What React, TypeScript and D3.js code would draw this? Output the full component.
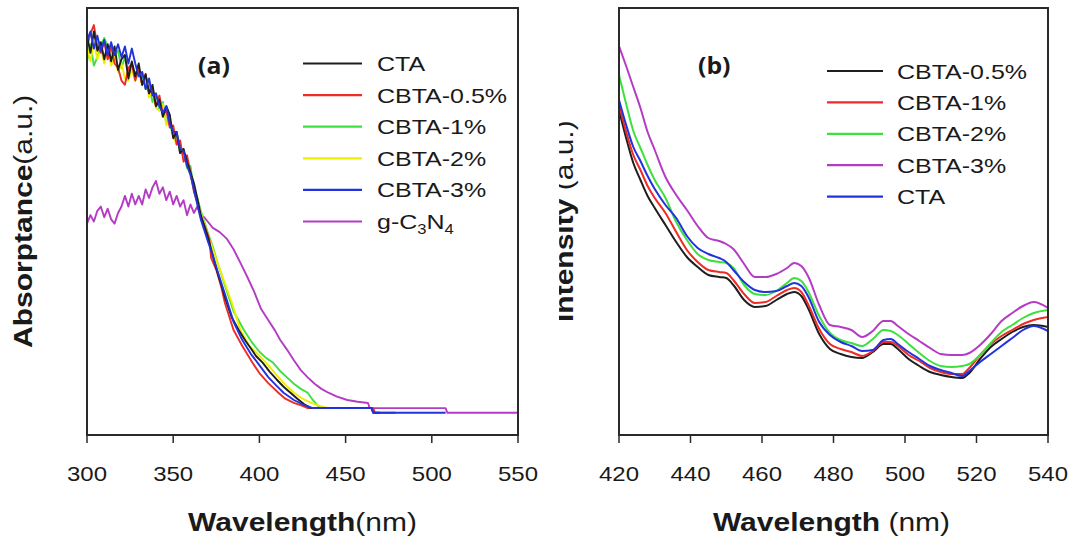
import React from 'react';
import * as d3 from 'd3';

const W = 1077, H = 551;
const FONT = '"Liberation Sans", Arial, Helvetica, sans-serif';
const SX = 1.2;

// ---------- Panel (a): absorptance ----------
const aTicks = [300, 350, 400, 450, 500, 550];
const nmNoisy = [300,302,304,306,308,310,312,314,316,318,320,322,324,326,328,330,332,334,336,338,340,342,344,346,348,350,352,354,356,358,360,362,364];

const ctaNoisy = [93.5,89.5,94.5,90.0,92.0,88.0,91.5,87.5,91.0,85.5,88.0,89.0,83.5,87.5,84.0,87.0,82.0,84.5,80.0,82.0,77.0,78.5,74.5,77.0,75.0,69.5,71.0,66.0,67.0,64.0,61.5,59.0,55.4];
const ctaTailNm = [366,368,370,372,375,378,380,384,388,392,395,398,402,406,410,414,418,422,426,430,465,466,470];
const ctaTail = [51.5,49.0,46.5,43.5,39.0,35.0,32.3,27.5,24.6,22.0,20.3,18.5,16.9,14.8,13.0,11.3,9.9,8.5,7.2,6.3,6.3,5.2,5.2];

const c05Noisy = [91.0,94.0,96.0,91.0,89.5,92.0,88.0,91.0,87.0,86.0,83.0,82.0,86.0,87.0,83.0,86.0,82.0,84.5,80.0,81.0,77.0,79.5,75.0,76.0,72.0,72.5,68.0,69.0,64.0,65.5,61.5,57.0,54.5];
const c05TailNm = [366,368,370,371,372,375,378,380,385,390,396,400,405,411,415,420,425,428,466,467,479];
const c05Tail = [51.0,49.2,47.0,45.7,41.5,38.7,34.5,30.9,24.6,20.9,16.9,14.5,12.2,9.9,8.5,7.5,6.8,6.3,6.3,5.2,5.2];

const c1Noisy = [87.5,91.5,86.5,88.5,91.0,93.0,91.0,88.0,89.0,90.0,86.0,88.5,85.0,87.0,84.0,84.0,85.0,81.0,82.0,78.0,80.0,76.0,78.0,73.0,73.0,70.0,70.5,66.0,67.0,62.5,63.0,57.5,55.5];
const c1TailNm = [366,368,370,373,376,380,385,391,396,400,404,408,412,416,420,424,428,431,434,436,440];
const c1Tail = [52.5,50.0,47.5,44.0,40.0,35.0,29.0,24.6,21.5,19.5,18.0,16.9,15.0,13.5,12.0,10.8,9.9,8.2,6.8,6.3,6.3];

const c2Noisy = [91.0,87.5,92.0,88.0,90.5,87.0,90.0,86.5,88.5,85.0,87.0,83.5,83.0,85.5,83.0,85.0,82.0,83.5,79.0,81.0,76.5,76.0,77.5,72.5,74.5,70.0,68.0,68.5,65.0,64.5,60.5,58.5,55.0];
const c2TailNm = [366,368,370,373,376,380,384,389,394,400,404,410,415,420,425,430,435,440];
const c2Tail = [52.0,49.5,47.0,43.5,40.0,35.5,31.0,24.6,21.0,18.5,16.9,14.0,11.8,9.9,8.5,7.5,6.8,6.3];

const c3Noisy = [92.5,94.5,90.5,93.5,90.0,92.5,89.0,92.0,89.0,91.5,88.5,91.0,87.0,90.5,87.0,84.0,85.0,81.0,83.5,79.5,80.0,77.0,75.5,77.0,73.0,71.0,71.0,67.0,66.5,63.0,61.0,57.5,54.0];
const c3TailNm = [366,368,370,373,376,380,385,390,395,399,405,410,414,420,426,431,465,466,508];
const c3Tail = [50.5,48.0,45.5,42.0,38.0,33.0,26.5,22.3,19.0,16.9,13.6,11.5,9.9,8.2,7.0,6.3,6.3,5.2,5.2];

const gcnNoisy = [49.5,51.5,50.0,52.5,53.5,51.0,53.0,50.5,49.5,52.0,53.5,56.0,53.5,56.5,54.0,56.0,54.0,57.5,55.5,58.0,59.5,56.5,58.0,55.0,57.0,54.0,56.0,53.5,55.0,51.5,54.0,52.0,53.5];
const gcnTailNm = [366,368,370,373,377,381,385,389,393,397,401,405,409,412,416,420,424,428,432,436,440,445,451,457,463,464,508,509,550];
const gcnTail = [51.5,51.0,50.0,48.5,47.5,46.0,43.5,40.3,37.0,33.5,29.5,27.0,24.5,22.3,20.0,17.5,15.2,13.5,12.0,10.8,9.9,9.0,8.2,7.8,7.5,6.3,6.3,5.2,5.2];

const aLabels = ['CTA', 'CBTA-0.5%', 'CBTA-1%', 'CBTA-2%', 'CBTA-3%', 'g-C3N4'];
const aColors = ['#1e1e1e', '#ee2b24', '#3ee03e', '#eeee00', '#2233dd', '#b43cc4'];

// ---------- Panel (b): PL intensity ----------
const bTicks = [420, 440, 460, 480, 500, 520, 540];
const bNm = [420,422,424,426,428,430,433,436,439,442,445,448,450,452,455,458,461,464,467,469,471,473,476,479,482,485,488,491,494,496,498,501,504,507,510,513,516,518,521,524,527,530,533,536,540];
const bC05 = [325,297,272,255,239,227,210,193,178,168,160,158,157,150,135,128,129,135,141,143,139,126,101,86,81,78,77,83,91,91,86,76,69,63,60,58,57,62,76,88,96,103,108,110,108];
const bC1 = [330,303,280,265,249,237,222,203,185,173,165,163,162,155,141,132,133,139,145,147,143,130,106,91,86,83,79,84,93,93,89,80,74,67,63,61,61,67,80,91,99,105,111,115,118];
const bC2 = [360,331,304,287,270,255,237,213,195,181,175,173,172,167,150,141,140,144,152,157,154,143,119,102,95,92,89,96,105,104,100,91,82,74,69,68,69,71,80,92,103,110,117,122,125];
const bC3 = [389,369,348,327,303,285,258,240,225,209,197,194,191,186,171,158,158,161,167,172,169,158,130,110,108,105,98,104,114,114,109,101,94,87,81,80,80,82,90,101,114,122,129,133,127];
const bCTA = [335,310,288,274,259,246,230,217,199,187,181,177,173,165,153,145,143,144,149,152,149,138,113,100,93,89,84,85,95,96,91,83,76,69,65,62,59,64,73,81,89,97,105,109,104];
const bLabels = ['CBTA-0.5%', 'CBTA-1%', 'CBTA-2%', 'CBTA-3%', 'CTA'];
const bColors = ['#1e1e1e', '#ee2b24', '#3ee03e', '#b43cc4', '#2233dd'];

type P = [number, number];
const zip = (xs: number[], ys: number[]): P[] => xs.map((x, i) => [x, ys[i]]);

const T = ({ x, y, rot = 0, sx = SX, size, weight = 'normal', anchor = 'start', family = FONT, children }: any) => (
  <text
    transform={`translate(${x},${y}) rotate(${rot}) scale(${sx},1)`}
    fontFamily={family}
    fontSize={size}
    fontWeight={weight}
    textAnchor={anchor}
    fill="#1a1a1a"
  >
    {children}
  </text>
);

export default function App() {
  const ax = d3.scaleLinear().domain([300, 550]).range([87, 518]);
  const ay = d3.scaleLinear().domain([0, 100]).range([435, 8]);
  const bx = d3.scaleLinear().domain([420, 540]).range([619, 1048]);
  const by = d3.scaleLinear().domain([0, 427]).range([435, 8]);

  const aLine = d3.line<P>().x(d => ax(d[0])).y(d => ay(d[1]));
  const bLine = d3.line<P>().x(d => bx(d[0])).y(d => by(d[1])).curve(d3.curveMonotoneX);

  const aSeries: { key: string; color: string; pts: P[] }[] = [
    { key: 'gcn', color: aColors[5], pts: [...zip(nmNoisy, gcnNoisy), ...zip(gcnTailNm, gcnTail)] },
    { key: 'c1', color: aColors[2], pts: [...zip(nmNoisy, c1Noisy), ...zip(c1TailNm, c1Tail)] },
    { key: 'c2', color: aColors[3], pts: [...zip(nmNoisy, c2Noisy), ...zip(c2TailNm, c2Tail)] },
    { key: 'c05', color: aColors[1], pts: [...zip(nmNoisy, c05Noisy), ...zip(c05TailNm, c05Tail)] },
    { key: 'cta', color: aColors[0], pts: [...zip(nmNoisy, ctaNoisy), ...zip(ctaTailNm, ctaTail)] },
    { key: 'c3', color: aColors[4], pts: [...zip(nmNoisy, c3Noisy), ...zip(c3TailNm, c3Tail)] },
  ];
  const bSeries = [
    { color: bColors[0], v: bC05 },
    { color: bColors[1], v: bC1 },
    { color: bColors[2], v: bC2 },
    { color: bColors[3], v: bC3 },
    { color: bColors[4], v: bCTA },
  ];

  const axisColor = '#2a2a2a';
  const aRange = ax.range(), bRange = bx.range();
  const yTop = ay.range()[1], yBot = ay.range()[0];

  const frame = (x0: number, x1: number) => (
    <rect x={x0} y={yTop} width={x1 - x0} height={yBot - yTop} fill="none" stroke={axisColor} strokeWidth={2} />
  );

  return (
    <svg width={W} height={H} style={{ position: 'absolute', left: 0, top: 0, background: '#fff' }}>
      <defs>
        <clipPath id="clipA"><rect x={aRange[0]} y={yTop} width={aRange[1] - aRange[0]} height={yBot - yTop} /></clipPath>
        <clipPath id="clipB"><rect x={bRange[0]} y={yTop} width={bRange[1] - bRange[0]} height={yBot - yTop} /></clipPath>
        <clipPath id="clipYT"><rect x={559} y={0} width={58} height={H} /></clipPath>
      </defs>
      <rect x={0} y={0} width={W} height={H} fill="#fff" />

      <g clipPath="url(#clipA)">
        {aSeries.map(s => (
          <path key={s.key} d={aLine(s.pts) || ''} fill="none" stroke={s.color} strokeWidth={1.9} strokeLinejoin="round" />
        ))}
      </g>
      <g clipPath="url(#clipB)">
        {bSeries.map((s, i) => (
          <path key={i} d={bLine(zip(bNm, s.v)) || ''} fill="none" stroke={s.color} strokeWidth={2} />
        ))}
      </g>

      {frame(aRange[0], aRange[1])}
      {frame(bRange[0], bRange[1])}

      {aTicks.map(t => (
        <g key={'a' + t}>
          <line x1={ax(t)} x2={ax(t)} y1={yBot} y2={yBot + 8} stroke={axisColor} strokeWidth={1.5} />
          <T x={ax(t)} y={481} size={20} anchor="middle">{t}</T>
        </g>
      ))}
      {bTicks.map(t => (
        <g key={'b' + t}>
          <line x1={bx(t)} x2={bx(t)} y1={yBot} y2={yBot + 8} stroke={axisColor} strokeWidth={1.5} />
          <T x={bx(t)} y={481} size={20} anchor="middle">{t}</T>
        </g>
      ))}

      <T x={(aRange[0] + aRange[1]) / 2} y={531} size={25} anchor="middle">
        <tspan fontWeight="bold">Wavelength</tspan><tspan>(nm)</tspan>
      </T>
      <T x={(bRange[0] + bRange[1]) / 2 - 2} y={531} size={25} anchor="middle">
        <tspan fontWeight="bold">Wavelength</tspan><tspan> (nm)</tspan>
      </T>
      <T x={32} y={348} rot={-90} size={25}>
        <tspan fontWeight="bold">Absorptance</tspan><tspan>(a.u.)</tspan>
      </T>
      <g clipPath="url(#clipYT)">
        <T x={573} y={322} rot={-90} size={25}>
          <tspan fontWeight="bold">Intensity</tspan><tspan> (a.u.)</tspan>
        </T>
      </g>

      <T x={198} y={74} size={23} sx={1.08} weight="bold" family='"Open Sans", sans-serif'>(a)</T>
      <T x={698} y={74} size={23} sx={1.08} weight="bold" family='"Open Sans", sans-serif'>(b)</T>

      {aLabels.map((lab, i) => {
        const yy = 63.5 + i * 31.6;
        return (
          <g key={lab}>
            <line x1={303} x2={362} y1={yy} y2={yy} stroke={aColors[i]} strokeWidth={2.2} />
            <T x={377} y={yy + 7.5} size={21} sx={1.19}>
              {lab === 'g-C3N4' ? (
                <>
                  <tspan>g-C</tspan>
                  <tspan fontSize={14} dy={5}>3</tspan>
                  <tspan dy={-5}>N</tspan>
                  <tspan fontSize={14} dy={5}>4</tspan>
                </>
              ) : lab}
            </T>
          </g>
        );
      })}

      {bLabels.map((lab, i) => {
        const yy = 71 + i * 31.4;
        return (
          <g key={lab}>
            <line x1={827} x2={883} y1={yy} y2={yy} stroke={bColors[i]} strokeWidth={2.2} />
            <T x={897} y={yy + 7.5} size={21} sx={1.19}>{lab}</T>
          </g>
        );
      })}
    </svg>
  );
}
